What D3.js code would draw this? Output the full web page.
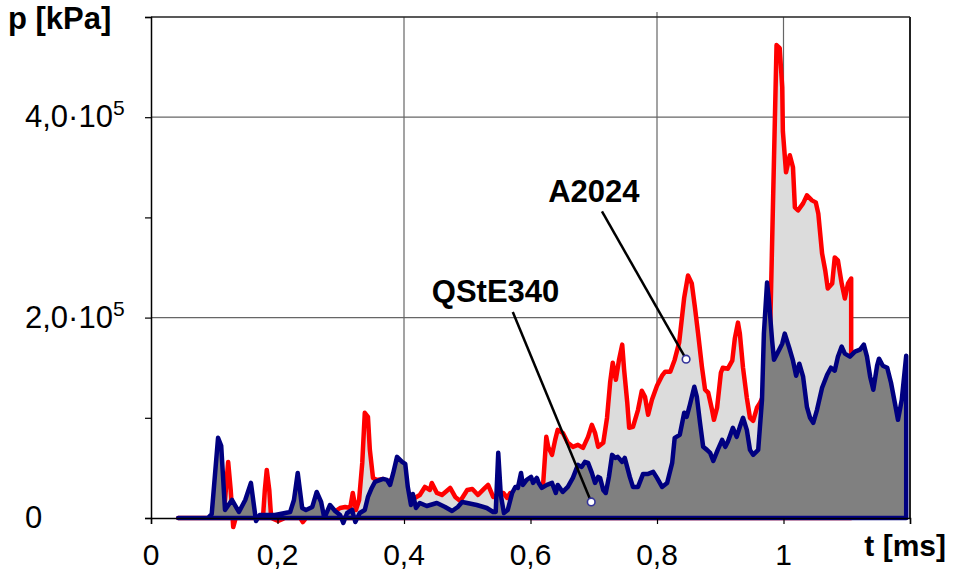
<!DOCTYPE html>
<html>
<head>
<meta charset="utf-8">
<script src="https://cdn.jsdelivr.net/npm/d3@7/dist/d3.min.js"></script>
<style>
  html, body { margin: 0; padding: 0; background: #fff; }
  svg { display: block; }
  text { font-family: "Liberation Sans", Arial, sans-serif; }
</style>
</head>
<body>
<svg id="chart" width="953" height="572"></svg>
<script>
// ---- data (t in ms, p in kPa) ----
const blueT = [0.043,0.090,0.096,0.106,0.111,0.117,0.128,0.139,0.149,0.158,0.166,0.172,0.196,0.220,0.226,0.232,0.239,0.245,0.255,0.262,0.269,0.274,0.283,0.291,0.299,0.304,0.310,0.318,0.323,0.330,0.338,0.343,0.349,0.354,0.367,0.373,0.378,0.383,0.389,0.397,0.402,0.406,0.411,0.414,0.419,0.425,0.436,0.452,0.465,0.476,0.485,0.492,0.500,0.515,0.531,0.541,0.545,0.549,0.553,0.558,0.564,0.571,0.576,0.580,0.585,0.588,0.594,0.601,0.604,0.610,0.613,0.618,0.626,0.634,0.640,0.643,0.651,0.659,0.667,0.675,0.681,0.686,0.691,0.697,0.702,0.707,0.710,0.715,0.719,0.724,0.729,0.734,0.738,0.745,0.749,0.757,0.762,0.770,0.778,0.786,0.794,0.800,0.808,0.816,0.824,0.828,0.836,0.843,0.847,0.852,0.859,0.863,0.868,0.873,0.879,0.884,0.889,0.896,0.903,0.908,0.912,0.920,0.926,0.931,0.936,0.942,0.947,0.952,0.960,0.966,0.969,0.974,0.977,0.982,0.985,0.990,0.998,1.002,1.009,1.015,1.020,1.025,1.031,1.037,1.042,1.047,1.053,1.061,1.069,1.075,1.081,1.086,1.092,1.097,1.105,1.113,1.121,1.127,1.132,1.137,1.142,1.148,1.151,1.157,1.164,1.170,1.176,1.181,1.187,1.194];
const blueP = [0,0,4000,80000,72000,8000,18000,6000,18000,35000,-3000,3000,3000,6000,18000,45000,10000,8000,11000,26000,16000,0,13000,7000,3000,-5000,5000,8000,-4000,5000,8000,21000,30000,36000,39000,38000,33000,45000,61000,56000,54000,31000,13000,24000,10000,15000,12000,15000,11000,7000,11000,16000,15000,13000,10000,6000,6000,65000,23000,5000,8000,25000,31000,30000,45000,33000,38000,41000,35000,40000,35000,30000,33000,35000,25000,33000,26000,31000,40000,53000,51000,56000,55000,45000,35000,41000,40000,28000,25000,41000,63000,60000,61000,56000,60000,41000,31000,31000,44000,44000,46000,40000,31000,35000,55000,80000,83000,105000,101000,113000,131000,121000,95000,71000,68000,65000,57000,68000,78000,71000,76000,90000,81000,91000,100000,88000,68000,63000,68000,118000,184000,235000,217000,177000,158000,164000,174000,184000,170000,157000,142000,154000,141000,111000,100000,95000,108000,130000,143000,150000,147000,161000,171000,164000,161000,166000,168000,173000,161000,141000,128000,152000,159000,152000,150000,135000,115000,98000,118000,162000];

const redT = [0.043,0.112,0.117,0.122,0.126,0.130,0.134,0.177,0.180,0.183,0.187,0.190,0.201,0.212,0.236,0.240,0.245,0.283,0.299,0.307,0.315,0.319,0.324,0.329,0.334,0.338,0.343,0.346,0.351,0.357,0.367,0.375,0.383,0.389,0.397,0.403,0.409,0.417,0.425,0.433,0.441,0.444,0.452,0.460,0.473,0.481,0.489,0.500,0.508,0.517,0.528,0.533,0.541,0.549,0.557,0.563,0.568,0.576,0.591,0.607,0.617,0.620,0.625,0.628,0.634,0.639,0.643,0.651,0.659,0.667,0.675,0.683,0.691,0.697,0.702,0.707,0.715,0.721,0.726,0.730,0.735,0.740,0.745,0.748,0.753,0.756,0.762,0.770,0.776,0.781,0.786,0.792,0.800,0.808,0.813,0.821,0.828,0.835,0.843,0.849,0.855,0.860,0.865,0.871,0.876,0.881,0.887,0.890,0.895,0.901,0.904,0.912,0.919,0.923,0.928,0.931,0.936,0.942,0.947,0.952,0.958,0.963,0.968,0.976,0.980,0.989,0.994,0.998,0.999,1.004,1.010,1.015,1.018,1.023,1.031,1.037,1.045,1.051,1.055,1.061,1.066,1.070,1.077,1.081,1.086,1.092,1.097,1.102,1.107];
const redP = [0,0,18000,56000,28000,-9000,0,0,28000,48000,28000,0,-3000,0,0,-4000,0,3000,10000,11000,10000,25000,8000,18000,55000,105000,101000,68000,40000,38000,39000,36000,40000,50000,48000,28000,21000,20000,23000,31000,28000,35000,25000,23000,30000,21000,17000,28000,29000,23000,30000,33000,21000,23000,25000,20000,25000,23000,28000,28000,28000,34000,81000,71000,63000,78000,88000,85000,75000,71000,73000,70000,81000,93000,85000,71000,75000,100000,136000,155000,138000,158000,173000,148000,115000,90000,91000,108000,127000,121000,103000,118000,132000,142000,146000,146000,158000,175000,220000,242000,234000,210000,184000,151000,128000,125000,108000,98000,110000,145000,150000,149000,157000,179000,195000,184000,150000,120000,100000,97000,110000,115000,122000,125000,218000,472000,469000,430000,386000,345000,362000,350000,310000,307000,314000,322000,317000,315000,304000,264000,247000,229000,234000,260000,257000,234000,219000,234000,239000];

const xTickVals = [0, 0.2, 0.4, 0.6, 0.8, 1.0];
const xTickLabels = ["0", "0,2", "0,4", "0,6", "0,8", "1"];
const xGridVals = [0.4, 0.8, 1.0];
const yTickVals = [0, 100000, 200000, 300000, 400000, 500000];
const yLabelVals = [0, 200000, 400000];
const yLabelMant = ["0", "2,0·10", "4,0·10"];
const yLabelExp = ["", "5", "5"];
const yGridVals = [200000, 400000];

const annotations = [
  {name: "A2024", labelT: 0.628, labelP: 315000, lineT: 0.713, lineP: 306000, ptT: 0.846, ptP: 158500},
  {name: "QStE340", labelT: 0.444, labelP: 215500, lineT: 0.572, lineP: 205500, ptT: 0.696, ptP: 16000}
];

// ---- chart ----
const svg = d3.select("#chart");
const x = d3.scaleLinear().domain([0, 1.2]).range([151, 910]);
const y = d3.scaleLinear().domain([0, 500000]).range([518, 17]);

// gridlines
svg.append("g").selectAll("line").data(yGridVals).join("line")
  .attr("x1", x(0)).attr("x2", x(1.2))
  .attr("y1", d => y(d)).attr("y2", d => y(d))
  .attr("stroke", "#666").attr("stroke-width", 1.2);
svg.append("g").selectAll("line").data(xGridVals).join("line")
  .attr("x1", d => x(d)).attr("x2", d => x(d))
  .attr("y1", y(0)).attr("y2", d => d === 0.8 ? y(500000) - 5 : y(500000))
  .attr("stroke", "#666").attr("stroke-width", 1.2);

const redData = redT.map((t, i) => [t, redP[i]]);
const blueData = blueT.map((t, i) => [t, blueP[i]]);

const area = d3.area().x(d => x(d[0])).y0(y(0)).y1(d => y(d[1]));

svg.append("path").datum(redData).attr("d", area)
  .attr("fill", "#dcdcdc").attr("stroke", "#ff0000").attr("stroke-width", 4.5)
  .attr("stroke-linejoin", "round");
svg.append("path").datum(blueData).attr("d", area)
  .attr("fill", "#808080").attr("stroke", "#000080").attr("stroke-width", 4.5)
  .attr("stroke-linejoin", "round");

// plot border (top/right)
svg.append("line").attr("x1", x(0)).attr("x2", x(1.2)).attr("y1", y(500000)).attr("y2", y(500000))
  .attr("stroke", "#222").attr("stroke-width", 1.5);
svg.append("line").attr("x1", x(1.2)).attr("x2", x(1.2)).attr("y1", y(500000)).attr("y2", y(0))
  .attr("stroke", "#222").attr("stroke-width", 2);

// axes
const yAxis = d3.axisLeft(y).tickValues(yTickVals).tickSize(6).tickFormat("");
const gy = svg.append("g").attr("transform", `translate(${x(0)},0)`).call(yAxis);
gy.select(".domain").attr("stroke", "#000").attr("stroke-width", 1.5);
gy.selectAll(".tick line").attr("stroke", "#000").attr("stroke-width", 1.2);

const xAxis = d3.axisBottom(x).tickValues([0,0.2,0.4,0.6,0.8,1.0,1.2]).tickSize(6).tickFormat("");
const gx = svg.append("g").attr("transform", `translate(0,${y(0)})`).call(xAxis);
gx.select(".domain").attr("stroke", "#000").attr("stroke-width", 1.5);
gx.selectAll(".tick line").attr("stroke", "#000").attr("stroke-width", 1.2);

// x tick labels
svg.append("g").selectAll("text").data(xTickVals).join("text")
  .attr("x", d => x(d)).attr("y", 565)
  .attr("text-anchor", "middle").attr("font-size", 30).attr("fill", "#000")
  .text((d, i) => xTickLabels[i]);

// y tick labels
const yl = svg.append("g").selectAll("text").data(yLabelVals).join("text")
  .attr("x", 25).attr("y", d => y(d) + 10)
  .attr("font-size", 31).attr("fill", "#000");
yl.append("tspan").text((d, i) => yLabelMant[i]);
yl.append("tspan").attr("dy", -12).attr("font-size", 21).text((d, i) => yLabelExp[i]);

// axis titles
svg.append("text").attr("x", 8).attr("y", 29).attr("font-size", 31).attr("font-weight", "bold")
  .text("p [kPa]");
svg.append("text").attr("x", 946).attr("y", 556).attr("text-anchor", "end")
  .attr("font-size", 30).attr("font-weight", "bold").text("t [ms]");

// annotations
const ann = svg.append("g");
ann.selectAll("line").data(annotations).join("line")
  .attr("x1", d => x(d.lineT)).attr("y1", d => y(d.lineP))
  .attr("x2", d => x(d.ptT)).attr("y2", d => y(d.ptP))
  .attr("stroke", "#000").attr("stroke-width", 2.5);
ann.selectAll("circle").data(annotations).join("circle")
  .attr("cx", d => x(d.ptT)).attr("cy", d => y(d.ptP)).attr("r", 3.8)
  .attr("fill", "#fff").attr("stroke", "#33339a").attr("stroke-width", 1.6);
ann.selectAll("text").data(annotations).join("text")
  .attr("x", d => x(d.labelT)).attr("y", d => y(d.labelP))
  .attr("font-size", 31).attr("font-weight", "bold").attr("fill", "#000")
  .text(d => d.name);
</script>
</body>
</html>
